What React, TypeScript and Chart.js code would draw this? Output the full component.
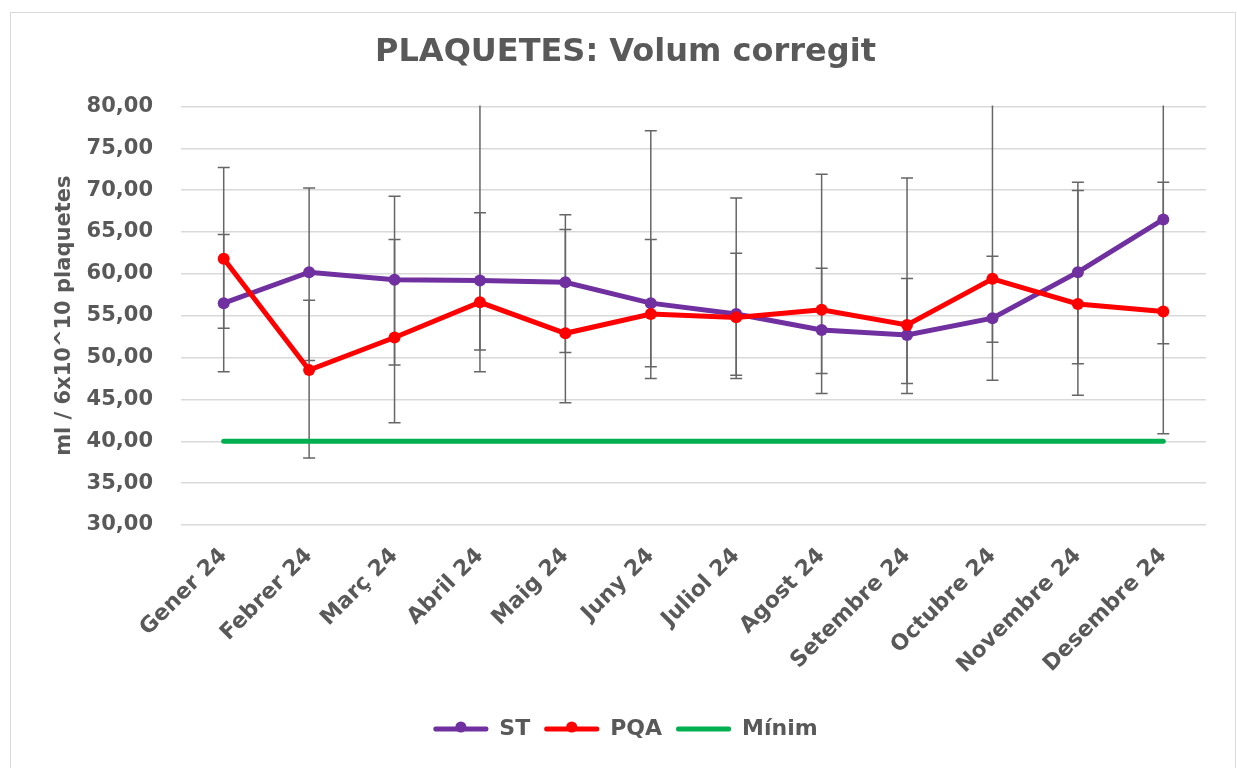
import React, { useEffect, useRef } from "react";
import { Chart, registerables } from "chart.js";

Chart.register(...registerables);

const categories = [
  "Gener 24", "Febrer 24", "Març 24", "Abril 24", "Maig 24", "Juny 24",
  "Juliol 24", "Agost 24", "Setembre 24", "Octubre 24", "Novembre 24", "Desembre 24",
];
const stValues = [56.5, 60.2, 59.3, 59.2, 59.0, 56.5, 55.2, 53.3, 52.7, 54.7, 60.2, 66.5];
const pqaValues = [61.8, 48.5, 52.4, 56.6, 52.9, 55.2, 54.8, 55.7, 53.9, 59.4, 56.4, 55.5];
const minimValues = [40, 40, 40, 40, 40, 40, 40, 40, 40, 40, 40, 40];

const stLow = [48.3, 49.65, 49.1, 50.9, 50.6, 48.9, 47.9, 45.7, 45.7, 47.3, 49.25, 51.64];
const stHigh = [64.7, 70.25, 69.26, 67.3, 67.07, 64.1, 62.46, 60.67, 59.44, 62.1, 70.93, 81.4];
const pqaLow = [53.5, 38.0, 42.2, 48.3, 44.6, 47.5, 47.5, 48.1, 46.9, 51.84, 45.5, 40.9];
const pqaHigh = [72.7, 56.85, 64.1, 85.0, 65.3, 77.1, 69.06, 71.9, 71.45, 84.0, 69.94, 70.93];

const yTicks = [30, 35, 40, 45, 50, 55, 60, 65, 70, 75, 80];

const TEXT = "#595959";
const FONT = "'DejaVu Sans', Verdana, sans-serif";

const errorBarPlugin = {
  id: "errorBars",
  beforeDatasetsDraw(chart: any) {
    const { ctx, chartArea, scales } = chart;
    const x = scales.x;
    const y = scales.y;
    ctx.save();
    ctx.beginPath();
    ctx.rect(chartArea.left, chartArea.top - 1, chartArea.right - chartArea.left, chartArea.bottom - chartArea.top + 2);
    ctx.clip();
    ctx.strokeStyle = "#666666";
    ctx.lineWidth = 1.5;
    const sets = [
      [stLow, stHigh],
      [pqaLow, pqaHigh],
    ];
    categories.forEach((_, i) => {
      const px = x.getPixelForValue(i);
      sets.forEach(([lo, hi]) => {
        const yl = y.getPixelForValue(lo[i]);
        const yh = y.getPixelForValue(hi[i]);
        ctx.beginPath();
        ctx.moveTo(px, yl);
        ctx.lineTo(px, yh);
        ctx.moveTo(px - 6, yl);
        ctx.lineTo(px + 6, yl);
        ctx.moveTo(px - 6, yh);
        ctx.lineTo(px + 6, yh);
        ctx.stroke();
      });
    });
    ctx.restore();
  },
};

const legendMarkerPlugin = {
  id: "legendMarkers",
  afterDraw(chart: any) {
    const legend = chart.legend;
    if (!legend || !legend.legendHitBoxes || !legend.legendItems) return;
    const { ctx } = chart;
    const boxWidth = legend.options.labels.boxWidth;
    legend.legendItems.forEach((item: any, k: number) => {
      if (item.datasetIndex > 1) return;
      const hb = legend.legendHitBoxes[k];
      if (!hb) return;
      const ds = chart.data.datasets[item.datasetIndex];
      ctx.save();
      ctx.fillStyle = ds.borderColor;
      ctx.beginPath();
      ctx.arc(hb.left + boxWidth / 2, hb.top + hb.height / 2 - 2, 5.5, 0, Math.PI * 2);
      ctx.fill();
      ctx.restore();
    });
  },
};

export default function App() {
  const canvasRef = useRef<HTMLCanvasElement | null>(null);

  useEffect(() => {
    document.body.style.overflow = "hidden";
    const canvas = canvasRef.current;
    if (!canvas) return;
    const chart = new Chart(canvas, {
      type: "line",
      data: {
        labels: categories,
        datasets: [
          {
            label: "ST",
            data: stValues,
            borderColor: "#7030A0",
            backgroundColor: "#7030A0",
            borderWidth: 5,
            pointRadius: 6,
            pointHoverRadius: 6,
            pointBackgroundColor: "#7030A0",
            pointBorderWidth: 0,
            tension: 0,
            order: 2,
          },
          {
            label: "PQA",
            data: pqaValues,
            borderColor: "#FF0000",
            backgroundColor: "#FF0000",
            borderWidth: 5,
            pointRadius: 6,
            pointHoverRadius: 6,
            pointBackgroundColor: "#FF0000",
            pointBorderWidth: 0,
            tension: 0,
            order: 1,
          },
          {
            label: "Mínim",
            data: minimValues,
            borderColor: "#00B050",
            backgroundColor: "#00B050",
            borderWidth: 5,
            pointRadius: 0,
            borderCapStyle: "round",
            tension: 0,
            order: 3,
          },
        ],
      },
      options: {
        responsive: false,
        animation: false,
        layout: { padding: { left: 45, right: 31, top: 13, bottom: 18 } },
        plugins: {
          title: {
            display: true,
            text: "PLAQUETES: Volum corregit",
            color: TEXT,
            font: { family: FONT, size: 32, weight: "bold" },
            padding: { top: 20, bottom: 35 },
          },
          legend: {
            position: "bottom",
            labels: {
              color: TEXT,
              font: { family: FONT, size: 22, weight: "bold" },
              boxWidth: 55,
              boxHeight: 5,
              padding: 14,
              useBorderRadius: true,
              borderRadius: 2,
              sort: (a: any, b: any) => a.datasetIndex - b.datasetIndex,
              generateLabels: (chart: any) =>
                (Chart.defaults as any).plugins.legend.labels
                  .generateLabels(chart)
                  .map((l: any) => ({ ...l, lineWidth: 0 })),
            },
          },
          tooltip: { enabled: false },
        },
        scales: {
          x: {
            type: "category",
            offset: true,
            grid: { display: false, drawTicks: false },
            border: { display: false },
            ticks: {
              color: TEXT,
              font: { family: FONT, size: 22, weight: "bold" },
              maxRotation: 45,
              minRotation: 45,
              padding: 18,
              autoSkip: false,
            },
            afterFit(scale: any) {
              scale.height = 179;
            },
          },
          y: {
            min: 30,
            max: 80,
            afterBuildTicks(scale: any) {
              scale.ticks = yTicks.map((v) => ({ value: v }));
            },
            grid: { color: "#d9d9d9", lineWidth: 1.5, drawTicks: false },
            border: { display: false },
            ticks: {
              color: TEXT,
              font: { family: FONT, size: 21, weight: "bold" },
              padding: 28,
              callback: (v: any) => Number(v).toFixed(2).replace(".", ","),
            },
            title: {
              display: true,
              text: "ml / 6x10^10 plaquetes",
              color: TEXT,
              font: { family: FONT, size: 21, weight: "bold" },
              padding: { top: 7, bottom: 0 },
            },
            afterFit(scale: any) {
              scale.width = 136;
            },
          },
        },
      },
      plugins: [errorBarPlugin, legendMarkerPlugin],
    } as any);
    return () => chart.destroy();
  }, []);

  return (
    <>
      <div
        style={{
          position: "absolute",
          left: 10,
          top: 12,
          width: 1226,
          height: 770,
          border: "1.5px solid #d9d9d9",
          boxSizing: "border-box",
        }}
      />
      <canvas
        ref={canvasRef}
        width={1237}
        height={768}
        style={{ position: "absolute", left: 0, top: 0, width: 1237, height: 768 }}
      />
    </>
  );
}
